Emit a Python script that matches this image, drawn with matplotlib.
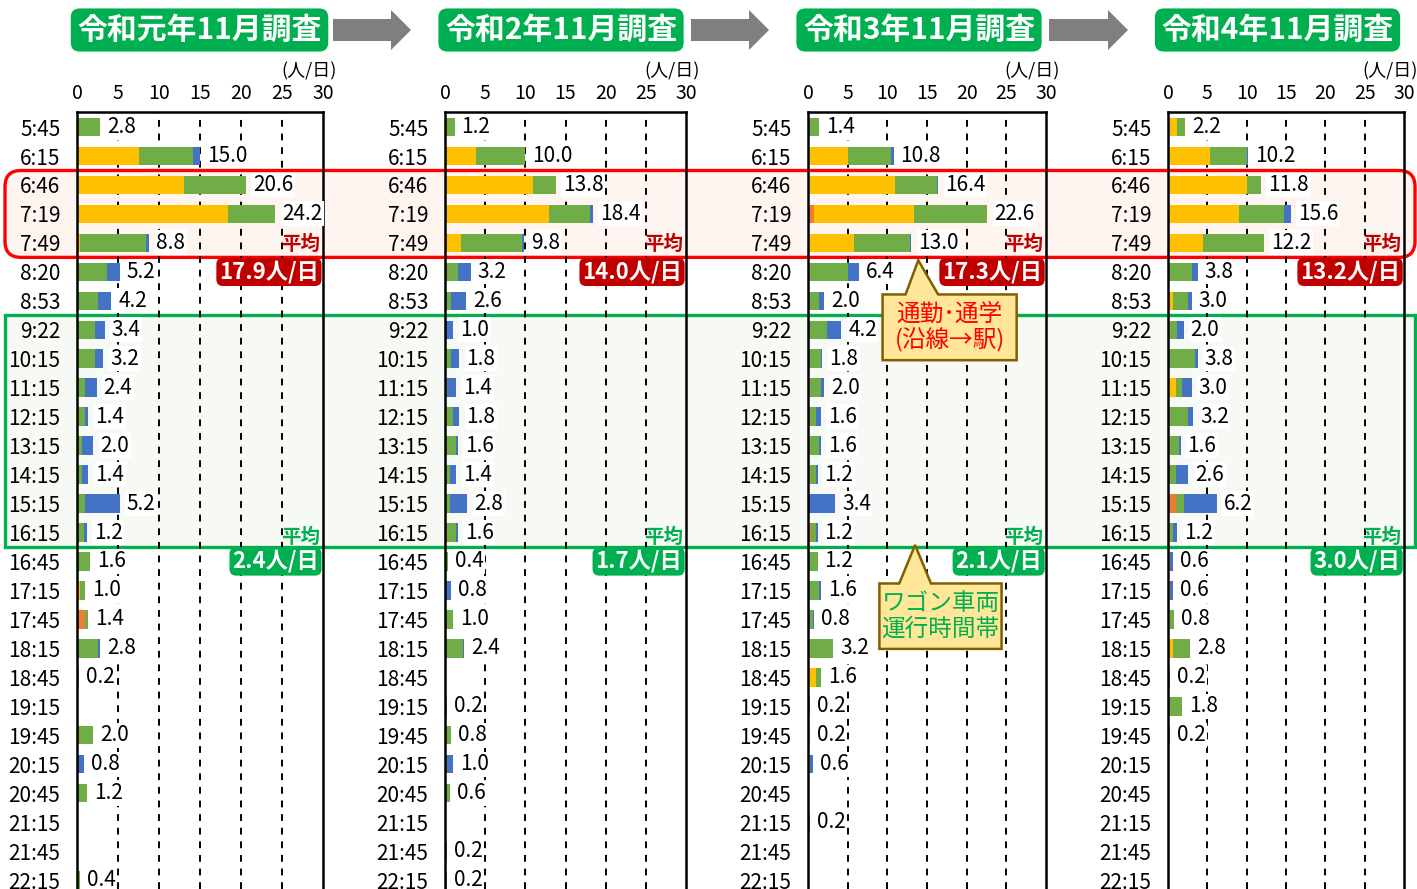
import numpy as np
import matplotlib.pyplot as plt
import matplotlib.transforms as mtransforms
from matplotlib.patches import FancyBboxPatch, Rectangle, Polygon, FancyArrow

plt.rcParams['font.family'] = ['Noto Sans CJK JP', 'DejaVu Sans']

# ---- data ----
times = ["5:45", "6:15", "6:46", "7:19", "7:49", "8:20", "8:53", "9:22", "10:15",
         "11:15", "12:15", "13:15", "14:15", "15:15", "16:15", "16:45", "17:15",
         "17:45", "18:15", "18:45", "19:15", "19:45", "20:15", "20:45", "21:15",
         "21:45", "22:15"]

titles = ["令和元年11月調査", "令和2年11月調査", "令和3年11月調査", "令和4年11月調査"]

# R1 (令和元年)
r1_orange = [0, 0, 0, 0, 0, 0, 0, 0, 0, 0, 0, 0, 0, 0, 0, 0, 0, 1.0, 0, 0, 0, 0, 0, 0, 0, 0, 0]
r1_yellow = [0, 7.6, 13.0, 18.4, 0.4, 0, 0, 0, 0, 0, 0, 0, 0, 0, 0, 0, 0.4, 0, 0, 0, 0, 0, 0, 0, 0, 0, 0]
r1_green = [2.8, 6.6, 7.6, 5.8, 8.0, 3.6, 2.6, 2.2, 2.2, 1.0, 1.0, 0.6, 0.6, 1.0, 0.8, 1.6, 0.6, 0.4, 2.6, 0.2, 0, 2.0, 0, 1.2, 0, 0, 0.4]
r1_blue = [0, 0.8, 0, 0, 0.4, 1.6, 1.6, 1.2, 1.0, 1.4, 0.4, 1.4, 0.8, 4.2, 0.4, 0, 0, 0, 0.2, 0, 0, 0, 0.8, 0, 0, 0, 0]

# R2
r2_orange = [0, 0, 0, 0, 0, 0, 0, 0, 0, 0, 0, 0, 0, 0, 0.2, 0, 0, 0, 0, 0, 0, 0, 0, 0, 0, 0, 0]
r2_yellow = [0, 3.8, 11.0, 13.0, 2.0, 0, 0, 0, 0, 0, 0, 0, 0, 0, 0, 0, 0, 0, 0, 0, 0, 0, 0, 0, 0, 0, 0]
r2_green = [1.2, 6.2, 2.8, 5.0, 7.6, 1.6, 0.8, 0, 0.8, 0.2, 1.0, 1.4, 0.6, 0.6, 1.2, 0.4, 0, 1.0, 2.2, 0, 0.2, 0.8, 0.2, 0.6, 0, 0.2, 0.2]
r2_blue = [0, 0, 0, 0.4, 0.2, 1.6, 1.8, 1.0, 1.0, 1.2, 0.8, 0.2, 0.8, 2.2, 0.2, 0, 0.8, 0, 0.2, 0, 0, 0, 0.8, 0, 0, 0, 0]

# R3
r3_orange = [0, 0, 0, 0.8, 0, 0, 0, 0, 0, 0, 0, 0, 0, 0, 0.4, 0, 0, 0, 0, 0, 0, 0, 0, 0, 0, 0, 0]
r3_yellow = [0, 5.0, 11.0, 12.6, 5.8, 0.2, 0, 0, 0, 0.2, 0, 0.2, 0.2, 0, 0, 0, 0, 0, 0.2, 1.0, 0, 0.2, 0, 0, 0, 0, 0]
r3_green = [1.4, 5.4, 5.2, 9.2, 7.0, 4.8, 1.4, 2.4, 1.6, 1.4, 1.0, 1.2, 0.8, 0, 0.6, 1.2, 1.4, 0.6, 3.0, 0.6, 0.2, 0, 0.2, 0, 0.2, 0, 0]
r3_blue = [0, 0.4, 0.2, 0, 0.2, 1.4, 0.6, 1.8, 0.2, 0.4, 0.6, 0.2, 0.2, 3.4, 0.2, 0, 0.2, 0.2, 0, 0, 0, 0, 0.4, 0, 0, 0, 0]

# R4
r4_orange = [0, 0, 0, 0, 0, 0, 0.2, 0, 0, 0, 0, 0, 0, 1.0, 0, 0, 0, 0, 0, 0, 0, 0, 0, 0, 0, 0, 0]
r4_yellow = [1.2, 5.4, 10.0, 9.0, 4.4, 0, 0.4, 0.2, 0, 1.0, 0.2, 0.2, 0, 0, 0.2, 0.2, 0.2, 0.2, 0.6, 0, 0, 0, 0, 0, 0, 0, 0]
r4_green = [1.0, 4.6, 1.8, 5.8, 7.8, 3.0, 2.0, 1.0, 3.4, 0.8, 2.4, 1.2, 1.0, 1.0, 0.4, 0, 0, 0.6, 2.2, 0.2, 1.8, 0.2, 0, 0, 0, 0, 0]
r4_blue = [0, 0.2, 0, 0.8, 0, 0.8, 0.4, 0.8, 0.4, 1.2, 0.6, 0.2, 1.6, 4.2, 0.6, 0.4, 0.4, 0, 0, 0, 0, 0, 0, 0, 0, 0, 0]

peak_avg = [17.9, 14.0, 17.3, 13.2]   # 6:46-7:49
day_avg = [2.4, 1.7, 2.1, 3.0]        # 9:22-16:15

panels = [
    (r1_orange, r1_yellow, r1_green, r1_blue),
    (r2_orange, r2_yellow, r2_green, r2_blue),
    (r3_orange, r3_yellow, r3_green, r3_blue),
    (r4_orange, r4_yellow, r4_green, r4_blue),
]
colors = ['#ED7D31', '#FFC000', '#70AD47', '#4472C4']

# ---- layout (pixels) ----
W, H = 1417, 889
fig = plt.figure(figsize=(W / 100, H / 100), dpi=100)
ax_left = [77, 445, 808, 1168]
ax_right = [323, 686, 1046, 1404]
ax_top, ax_bottom = 112, 889
head_left = [68, 433, 791, 1150]
head_right = [331, 689, 1047, 1405]

red = '#FF0000'
dark_red = '#C00000'
green = '#00B050'

axes = []
y = np.arange(len(times))
for k, (lft, rgt) in enumerate(zip(ax_left, ax_right)):
    ax = fig.add_axes([lft / W, 1 - ax_bottom / H, (rgt - lft) / W, (ax_bottom - ax_top) / H])
    ax.set_facecolor('none')
    ax.set_xlim(0, 30)
    ax.set_ylim(26.31, -0.52)
    ax.xaxis.tick_top()
    ax.set_xticks([0, 5, 10, 15, 20, 25, 30])
    ax.tick_params(axis='x', length=0, pad=6, labelsize=14)
    ax.set_yticks(y)
    ax.set_yticklabels(times)
    ax.tick_params(axis='y', length=0, pad=12, labelsize=15)
    ax.spines['bottom'].set_visible(False)
    for s in ['top', 'left', 'right']:
        ax.spines[s].set_linewidth(1.8)
    for gx in [5, 10, 15, 20, 25]:
        ax.axvline(gx, color='black', ls=(0, (3.5, 3.5)), lw=1.4, zorder=1)

    left = np.zeros(len(times))
    for vals, col in zip(panels[k], colors):
        vals = np.array(vals)
        ax.barh(y, vals, left=left, height=0.64, color=col, zorder=2)
        left = left + vals
    for i, tot in enumerate(left):
        if tot > 0:
            ax.annotate(f'{tot:.1f}', (tot, i), xytext=(5, 0), textcoords='offset points',
                        va='center', ha='left', fontsize=15, annotation_clip=False,
                        bbox=dict(fc='white', ec='none', pad=1), zorder=3)

    # averages
    ax.text(29.6, 4.05, '平均', color=dark_red, fontweight='bold', ha='right', va='center',
            fontsize=14, zorder=4)
    ax.text(29.5, 5.0, f'{peak_avg[k]:.1f}人/日', color='white', fontweight='bold',
            ha='right', va='center', fontsize=16, zorder=4,
            bbox=dict(boxstyle='round,pad=0.12,rounding_size=0.3', fc=dark_red, ec='none'))
    ax.text(29.6, 14.15, '平均', color=green, fontweight='bold', ha='right', va='center',
            fontsize=14, zorder=4)
    ax.text(29.5, 15.0, f'{day_avg[k]:.1f}人/日', color='white', fontweight='bold',
            ha='right', va='center', fontsize=16, zorder=4,
            bbox=dict(boxstyle='round,pad=0.12,rounding_size=0.3', fc=green, ec='none'))

    ax.annotate('(人/日)', xy=(1, 1), xycoords='axes fraction', xytext=(-14, 41),
                textcoords='offset pixels', ha='center', va='center', fontsize=13)
    axes.append(ax)

# header boxes and arrows
for k, title in enumerate(titles):
    cx = (head_left[k] + head_right[k]) / 2
    fig.text(cx / W, 1 - 30 / H, title, ha='center', va='center', color='white',
             fontsize=21.5, fontweight='bold',
             bbox=dict(boxstyle='round,pad=0.22,rounding_size=0.3', fc=green, ec='none'))
ident = mtransforms.IdentityTransform()
for k in range(3):
    x0 = head_right[k] + 2
    x1 = head_left[k + 1] - 20
    fig.patches.append(FancyArrow(x0, H - 30, x1 - x0 - 2, 0, width=22, head_width=40,
                                  head_length=20, length_includes_head=True,
                                  fc='#7F7F7F', ec='none', transform=ident, figure=fig))

# highlight bands (rows converted through the first axes), kept behind the axes
ax0 = axes[0]
def row_px(r):
    return ax0.transData.transform((0, r))[1]

r_top, r_bot = row_px(1.5), row_px(4.5)
band = FancyBboxPatch((5, r_bot), 1410, r_top - r_bot,
                      boxstyle='round,pad=0,rounding_size=16', fc='#FFF5F0', ec=red, lw=2.4,
                      transform=ident, zorder=-1, figure=fig)
g_top, g_bot = row_px(6.5), row_px(14.5)
gband = Rectangle((5, g_bot), 1410, g_top - g_bot, fc='#F7FAF4', ec=green, lw=2.4,
                  transform=ident, zorder=-1, figure=fig)
fig.patches.extend([band, gband])

# callouts on the third panel
ax3 = axes[2]
def callout(ax, x0, x1, y0, y1, b0, b1, tip, text, tcolor):
    verts = [(x0, y0), (b0, y0), tip, (b1, y0), (x1, y0), (x1, y1), (x0, y1)]
    ax.add_patch(Polygon(verts, closed=True, fc='#FFE699', ec='#7F6000', lw=1.8,
                         clip_on=False, zorder=5))
    ax.text((x0 + x1) / 2, (y0 + y1) / 2, text, ha='center', va='center', color=tcolor,
            fontsize=17, linespacing=1.12, zorder=6)

callout(ax3, 9.4, 26.3, 5.78, 8.05, 12.3, 16.4, (13.9, 4.6), '通勤･通学\n(沿線→駅)', red)
callout(ax3, 9.0, 24.4, 15.76, 18.02, 11.5, 15.5, (13.5, 14.43), 'ワゴン車両\n運行時間帯', green)

fig.savefig('out.png', dpi=100)
